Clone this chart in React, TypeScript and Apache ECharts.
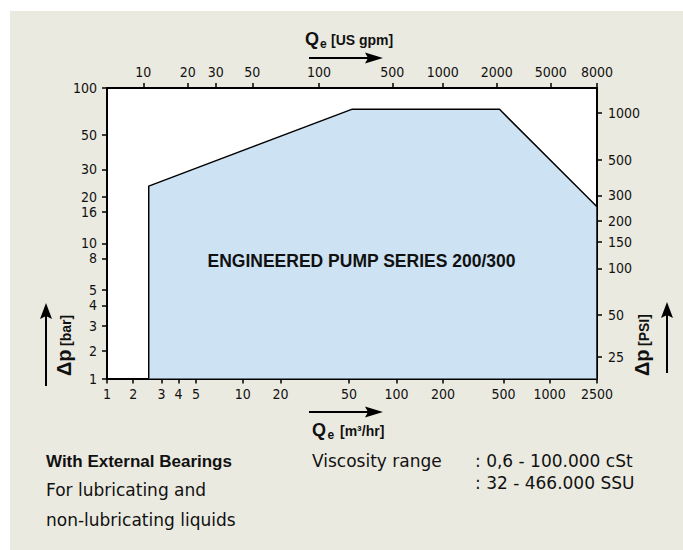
import React, { useEffect, useRef } from "react";
import * as echarts from "echarts";

// ---- Data ----
// Bottom axis: Qe [m³/hr]
const flowTicks = [1, 2, 3, 4, 5, 10, 20, 50, 100, 200, 500, 1000, 2500];
// Top axis: Qe [US gpm]
const gpmTicks = [10, 20, 30, 50, 100, 500, 1000, 2000, 5000, 8000];
// Left axis: Δp [bar]
const barTicks = [1, 2, 3, 4, 5, 8, 10, 16, 20, 30, 50, 100];
// Right axis: Δp [PSI]
const psiTicks = [25, 50, 100, 150, 200, 300, 500, 1000];

// Operating envelope of the pump series (polygon vertices)
const envelopeFlow = [2.5, 2.5, 52, 470, 2500, 2500]; // m³/hr
const envelopeBar = [1, 23.4, 73, 73, 17.2, 1]; // bar

const seriesLabel = "ENGINEERED PUMP SERIES 200/300";

// ---- Layout: where each printed tick sits along its axis (fraction of axis length, as drawn) ----
const FLOW_TICK_AT = [0, 0.0535, 0.111, 0.146, 0.1816, 0.2773, 0.3539, 0.4939, 0.5906, 0.6855, 0.8094, 0.9033, 1];
const GPM_TICK_AT = [0.0741, 0.1647, 0.2218, 0.2965, 0.4327, 0.5822, 0.6851, 0.7953, 0.9055, 1];
const BAR_TICK_AT = [0, 0.0957, 0.1807, 0.252, 0.3046, 0.4138, 0.4654, 0.5742, 0.6258, 0.7201, 0.8382, 1];
const PSI_TICK_AT = [0.075, 0.2186, 0.3793, 0.4709, 0.5422, 0.6306, 0.7522, 0.915];

const NARROW = "'Liberation Sans Narrow', 'DejaVu Sans Condensed', 'Liberation Sans', sans-serif";
const SANS = "'Liberation Sans', Arial, sans-serif";
const WIDE = "'DejaVu Sans', 'Liberation Sans', sans-serif";
const INK = "#111";

// log-interpolate a value onto the printed (hand-drawn) axis
function toAxis(v: number, ticks: number[], at: number[]): number {
  const lv = Math.log10(v);
  for (let i = 0; i < ticks.length - 1; i++) {
    const a = Math.log10(ticks[i]);
    const b = Math.log10(ticks[i + 1]);
    if (lv <= b || i === ticks.length - 2) {
      const t = (lv - a) / (b - a);
      return at[i] + t * (at[i + 1] - at[i]);
    }
  }
  return at[at.length - 1];
}

function axis(ticks: number[], at: number[], position: string, margin: number) {
  return {
    type: "value",
    min: 0,
    max: 1,
    position,
    gridIndex: 0,
    axisLine: { show: true, onZero: false, lineStyle: { color: "#000", width: 2 } },
    axisTick: { show: true, customValues: at, length: 5, inside: false, lineStyle: { color: "#000", width: 1.5 } },
    axisLabel: {
      show: true,
      customValues: at,
      margin,
      color: INK,
      fontSize: 14,
      fontFamily: NARROW,
      formatter: (v: number) => {
        const i = at.findIndex((p) => Math.abs(p - v) < 1e-6);
        return i >= 0 ? String(ticks[i]) : "";
      },
    },
    splitLine: { show: false },
  };
}

function arrow(x1: number, y1: number, x2: number, y2: number, headLen: number, half: number) {
  const L = Math.hypot(x2 - x1, y2 - y1);
  const ux = (x2 - x1) / L;
  const uy = (y2 - y1) / L;
  const bx = x2 - ux * headLen;
  const by = y2 - uy * headLen;
  const px = -uy;
  const py = ux;
  return [
    {
      type: "line",
      silent: true,
      shape: { x1, y1, x2: bx + ux * 3, y2: by + uy * 3 },
      style: { stroke: "#000", lineWidth: 2 },
    },
    {
      type: "polygon",
      silent: true,
      shape: {
        points: [
          [x2, y2],
          [bx + px * half, by + py * half],
          [bx + ux * 3, by + uy * 3],
          [bx - px * half, by - py * half],
        ],
      },
      style: { fill: "#000" },
    },
  ];
}

function txt(text: string, x: number, y: number, size: number, bold: boolean, family = SANS, align = "left") {
  return {
    type: "text",
    x,
    y,
    silent: true,
    style: {
      text,
      fill: INK,
      fontSize: size,
      fontWeight: bold ? "bold" : "normal",
      fontFamily: family,
      textAlign: align,
      textVerticalAlign: "middle",
      align,
      verticalAlign: "middle",
    },
  };
}

function vLabel(cx: number, yStart: number, unit: string) {
  return {
    type: "group",
    x: cx,
    y: yStart,
    rotation: Math.PI / 2,
    silent: true,
    children: [txt("\u0394p", 0, 0, 20, true), txt(unit, 30, 1.5, 14, true)],
  };
}

export default function App() {
  const ref = useRef<HTMLDivElement>(null);

  useEffect(() => {
    const chart = echarts.init(ref.current as HTMLDivElement, null, { renderer: "svg" });

    const envelope = envelopeFlow.map((f, i) => [
      toAxis(f, flowTicks, FLOW_TICK_AT),
      toAxis(envelopeBar[i], barTicks, BAR_TICK_AT),
    ]);

    const option: any = {
      animation: false,
      backgroundColor: "#ffffff",
      grid: {
        left: 107,
        top: 88,
        width: 490,
        height: 290.5,
        show: true,
        backgroundColor: "#ffffff",
        borderWidth: 0,
        outerBoundsMode: "none",
        containLabel: false,
      },
      xAxis: [axis(flowTicks, FLOW_TICK_AT, "bottom", 8), axis(gpmTicks, GPM_TICK_AT, "top", 9)],
      yAxis: [axis(barTicks, BAR_TICK_AT, "left", 10), axis(psiTicks, PSI_TICK_AT, "right", 11)],
      series: [
        {
          type: "line",
          xAxisIndex: 0,
          yAxisIndex: 0,
          data: envelope,
          symbol: "none",
          silent: true,
          lineStyle: { color: "#000", width: 1.5 },
          areaStyle: { color: "#cde3f3", opacity: 1, origin: "start" },
          z: 2,
        },
      ],
      graphic: {
        elements: [
          {
            type: "rect",
            z: -100,
            silent: true,
            shape: { x: 10, y: 11, width: 673, height: 539 },
            style: { fill: "#ebeae0" },
          },
          // series label inside the plot
          { ...txt(seriesLabel, 361.5, 261, 17.5, true, SANS, "center"), z: 10 },
          // top axis title
          txt("Q", 305, 38.5, 18, true),
          txt("e", 320, 44, 12, true),
          txt("[US gpm]", 331, 40, 14, true),
          ...arrow(309, 58, 383, 58, 18, 5.5),
          // bottom axis title
          ...arrow(309, 412, 383, 412, 18, 5.5),
          txt("Q", 312, 429.5, 18, true),
          txt("e", 327.5, 435, 12, true),
          txt("[m\u00b3/hr]", 340, 431, 14, true),
          // left axis title
          vLabel(64, 376, "[bar]"),
          ...arrow(46, 386, 46, 303, 16, 6),
          // right axis title
          vLabel(642, 376, "[PSI]"),
          ...arrow(667, 373, 667, 302, 16, 6),
          // notes below the chart
          txt("With External Bearings", 46, 461, 17, true, SANS),
          txt("For lubricating and", 46, 490, 17, false, WIDE),
          txt("non-lubricating liquids", 46, 520, 17, false, WIDE),
          txt("Viscosity range", 312, 461, 17, false, WIDE),
          txt(": 0,6 - 100.000 cSt", 475, 461, 17, false, WIDE),
          txt(": 32 - 466.000 SSU", 475, 482.5, 17, false, WIDE),
        ],
      },
    };

    chart.setOption(option);
    return () => chart.dispose();
  }, []);

  return <div ref={ref} style={{ position: "absolute", left: 0, top: 0, width: 683, height: 550 }} />;
}
